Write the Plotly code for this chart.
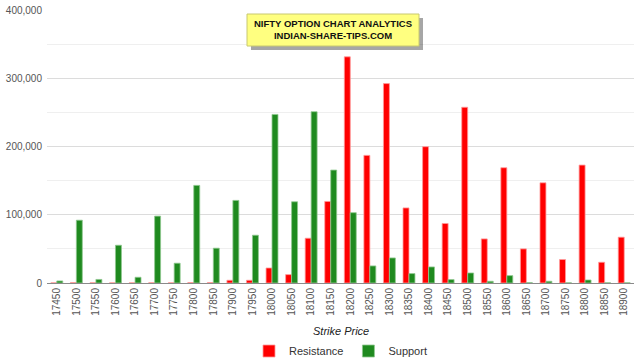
import plotly.graph_objects as go

strikes = ["17450","17500","17550","17600","17650","17700","17750","17800","17850","17900",
           "17950","18000","18050","18100","18150","18200","18250","18300","18350","18400",
           "18450","18500","18550","18600","18650","18700","18750","18800","18850","18900"]
resistance = [200, 500, 300, 200, 200, 300, 200, 500, 500, 4000,
              4000, 22000, 12300, 65600, 119500, 331400, 187000, 292200, 110000, 199700,
              87200, 257500, 64600, 168900, 50000, 146800, 34400, 172800, 30400, 67100]
support = [3000, 92000, 5200, 55300, 8400, 98000, 29000, 143000, 51000, 121000,
           70000, 247000, 119000, 251000, 165500, 103000, 25000, 36700, 13800, 23500,
           5000, 14700, 2500, 10800, 500, 2500, 300, 4400, 300, 300]

fig = go.Figure()
fig.add_trace(go.Bar(name="Resistance", x=strikes, y=resistance,
                     marker=dict(color="#ff0000", line=dict(color="#ff9a9a", width=0.8))))
fig.add_trace(go.Bar(name="Support", x=strikes, y=support,
                     marker=dict(color="#1f8a1f", line=dict(color="#8fc88f", width=0.8))))

L, R, T, B = 47, 6, 10, 78
W, H = 640, 361
pw, ph = W - L - R, H - T - B

def px(x):
    return (x - L) / pw

def py(y):
    return (H - B - y) / ph

fig.update_layout(
    width=W, height=H,
    margin=dict(l=L, r=R, t=T, b=B, autoexpand=False),
    paper_bgcolor="white", plot_bgcolor="white",
    barmode="group", bargap=0.39, bargroupgap=0,
    font=dict(family="Liberation Sans, Arial", size=10, color="#555"),
    showlegend=True,
    legend=dict(orientation="h", x=0.5, xanchor="center", y=py(351), yanchor="middle",
                font=dict(size=11, color="#333"), traceorder="normal"),
    xaxis=dict(type="category", tickangle=-90, showgrid=False, automargin=False,
               showline=True, linecolor="#8a8a8a", linewidth=1,
               tickfont=dict(size=10, color="#555")),
    yaxis=dict(range=[0, 400000], tickvals=[0, 100000, 200000, 300000, 400000],
               tickformat=",", gridcolor="#dcdcdc", gridwidth=1, automargin=False,
               minor=dict(dtick=50000, showgrid=True, gridcolor="#efefef", gridwidth=1),
               zeroline=False, tickfont=dict(size=10, color="#555"), ticklabelstandoff=4),
)

fig.add_annotation(xref="paper", yref="paper", x=0.5, y=py(331), yanchor="middle",
                   text="<i>Strike Price</i>", showarrow=False,
                   font=dict(size=11, color="#222"))

bx0, bx1, by0, by1 = 247, 419, 14, 46
fig.add_shape(type="rect", xref="paper", yref="paper", layer="above",
              x0=px(bx0 + 4), x1=px(bx1 + 4), y0=py(by1 + 4), y1=py(by0 + 4),
              fillcolor="rgba(0,0,0,0.35)", line=dict(width=0))
fig.add_shape(type="rect", xref="paper", yref="paper", layer="above",
              x0=px(bx0), x1=px(bx1), y0=py(by1), y1=py(by0),
              fillcolor="#ffff80", line=dict(color="#c8c870", width=1))
fig.add_annotation(xref="paper", yref="paper", x=px((bx0 + bx1) / 2), y=py((by0 + by1) / 2),
                   text="<b>NIFTY OPTION CHART ANALYTICS<br>INDIAN-SHARE-TIPS.COM</b>",
                   showarrow=False, font=dict(size=9.5, color="#111", family="Liberation Sans, Arial"),
                   xanchor="center", yanchor="middle")

fig.write_html("out.html", config={"displayModeBar": False},
               post_script="document.body.style.margin='0';document.body.style.overflow='hidden';")
